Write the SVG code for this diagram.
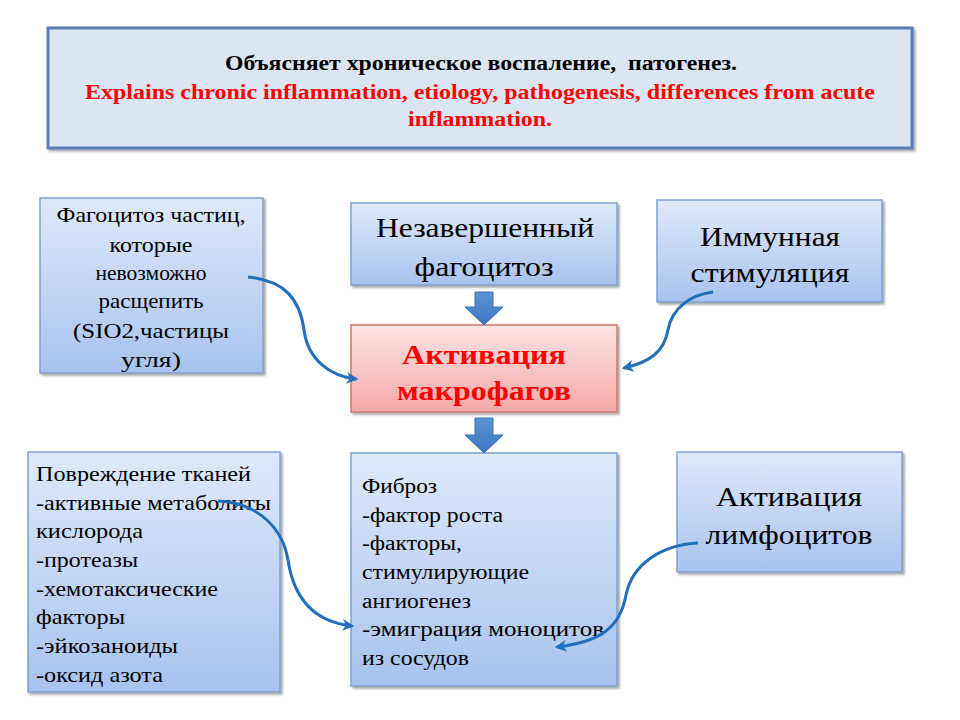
<svg xmlns="http://www.w3.org/2000/svg" width="960" height="720" viewBox="0 0 960 720" font-family="Liberation Serif, Times New Roman, serif">
<defs>
<linearGradient id="gBlue" x1="0" y1="0" x2="0" y2="1">
<stop offset="0" stop-color="#dfe9fb"/>
<stop offset="1" stop-color="#a8c3ee"/>
</linearGradient>
<linearGradient id="gRed" x1="0" y1="0" x2="0" y2="1">
<stop offset="0" stop-color="#fde3e3"/>
<stop offset="1" stop-color="#f5a9a8"/>
</linearGradient>
<linearGradient id="gArrow" x1="0" y1="0" x2="0" y2="1">
<stop offset="0" stop-color="#5a94d6"/>
<stop offset="1" stop-color="#3f78bf"/>
</linearGradient>
<filter id="sh" x="-10%" y="-10%" width="120%" height="120%">
<feDropShadow dx="2" dy="2" stdDeviation="1.2" flood-color="#000" flood-opacity="0.35"/>
</filter>
<marker id="ah" viewBox="0 0 10 10" refX="8" refY="5" markerWidth="4" markerHeight="4" orient="auto" markerUnits="strokeWidth">
<path d="M0,0 L10,5 L0,10 L3,5 Z" fill="#1f6fba"/>
</marker>
<style>
.box{fill:url(#gBlue);stroke:#7f9fd0;stroke-width:1.5;filter:url(#sh)}
.c{text-anchor:middle}
.big{font-size:28px}
.mid{font-size:22px}
.sm{font-size:20px}
.red{fill:#ff0000;font-weight:bold}
.con{fill:none;stroke:#1f6fba;stroke-width:3;marker-end:url(#ah)}
.blk{fill:url(#gArrow);stroke:#3b6ea8;stroke-width:1}
</style>
</defs>
<rect width="960" height="720" fill="#fff"/>

<g id="header">
<rect x="48" y="28" width="864" height="120" fill="#dce6f2" stroke="#5a7fb8" stroke-width="3" filter="url(#sh)"/>
<text class="c" x="481" y="70" font-size="20" font-weight="bold" textLength="512" lengthAdjust="spacingAndGlyphs" xml:space="preserve">Объясняет хроническое воспаление,  патогенез.</text>
<text class="c red" x="480" y="99" font-size="20" textLength="790" lengthAdjust="spacingAndGlyphs">Explains chronic inflammation, etiology, pathogenesis, differences from acute</text>
<text class="c red" x="480" y="126" font-size="20" textLength="144" lengthAdjust="spacingAndGlyphs">inflammation.</text>
</g>

<g id="phagocytosis-particles">
<rect class="box" x="40" y="198" width="223" height="175"/>
<text class="c mid" x="151" y="222" textLength="189" lengthAdjust="spacingAndGlyphs">Фагоцитоз частиц,</text>
<text class="c mid" x="151" y="252" textLength="83" lengthAdjust="spacingAndGlyphs">которые</text>
<text class="c mid" x="151" y="280" textLength="111" lengthAdjust="spacingAndGlyphs">невозможно</text>
<text class="c mid" x="151" y="308" textLength="105" lengthAdjust="spacingAndGlyphs">расщепить</text>
<text class="c mid" x="151" y="338" textLength="156" lengthAdjust="spacingAndGlyphs">(SIO2,частицы</text>
<text class="c mid" x="151" y="367" textLength="60" lengthAdjust="spacingAndGlyphs">угля)</text>
</g>

<g id="incomplete-phagocytosis">
<rect class="box" x="351" y="203" width="266" height="82"/>
<text class="c big" x="485" y="237" textLength="218" lengthAdjust="spacingAndGlyphs">Незавершенный</text>
<text class="c big" x="484" y="276" textLength="139" lengthAdjust="spacingAndGlyphs">фагоцитоз</text>
</g>

<g id="immune-stimulation">
<rect class="box" x="657" y="200" width="225" height="102"/>
<text class="c big" x="770" y="246" textLength="140" lengthAdjust="spacingAndGlyphs">Иммунная</text>
<text class="c big" x="770" y="282" textLength="159" lengthAdjust="spacingAndGlyphs">стимуляция</text>
</g>

<g id="macrophage-activation">
<rect x="351" y="325" width="266" height="87" fill="url(#gRed)" stroke="#d07573" stroke-width="1.5" filter="url(#sh)"/>
<text class="c big red" x="484" y="364" textLength="164" lengthAdjust="spacingAndGlyphs">Активация</text>
<text class="c big red" x="484" y="400" textLength="174" lengthAdjust="spacingAndGlyphs">макрофагов</text>
</g>

<g id="tissue-damage">
<rect class="box" x="28" y="452" width="252" height="240"/>
<text class="mid" x="36" y="481" textLength="215" lengthAdjust="spacingAndGlyphs">Повреждение тканей</text>
<text class="mid" x="36" y="510" textLength="235" lengthAdjust="spacingAndGlyphs">-активные метаболиты</text>
<text class="mid" x="36" y="538" textLength="107" lengthAdjust="spacingAndGlyphs">кислорода</text>
<text class="mid" x="36" y="567" textLength="102" lengthAdjust="spacingAndGlyphs">-протеазы</text>
<text class="mid" x="36" y="596" textLength="182" lengthAdjust="spacingAndGlyphs">-хемотаксические</text>
<text class="mid" x="36" y="624" textLength="89" lengthAdjust="spacingAndGlyphs">факторы</text>
<text class="mid" x="36" y="653" textLength="142" lengthAdjust="spacingAndGlyphs">-эйкозаноиды</text>
<text class="mid" x="36" y="682" textLength="127" lengthAdjust="spacingAndGlyphs">-оксид азота</text>
</g>

<g id="fibrosis">
<rect class="box" x="351" y="453" width="266" height="233"/>
<text class="sm" x="362" y="493" textLength="75" lengthAdjust="spacingAndGlyphs">Фиброз</text>
<text class="sm" x="362" y="522" textLength="141" lengthAdjust="spacingAndGlyphs">-фактор роста</text>
<text class="sm" x="362" y="550" textLength="100" lengthAdjust="spacingAndGlyphs">-факторы,</text>
<text class="sm" x="362" y="579" textLength="167" lengthAdjust="spacingAndGlyphs">стимулирующие</text>
<text class="sm" x="362" y="608" textLength="109" lengthAdjust="spacingAndGlyphs">ангиогенез</text>
<text class="sm" x="362" y="636" textLength="242" lengthAdjust="spacingAndGlyphs">-эмиграция моноцитов</text>
<text class="sm" x="362" y="665" textLength="107" lengthAdjust="spacingAndGlyphs">из сосудов</text>
</g>

<g id="lymphocyte-activation">
<rect class="box" x="677" y="452" width="225" height="120"/>
<text class="c big" x="789" y="506" textLength="146" lengthAdjust="spacingAndGlyphs">Активация</text>
<text class="c big" x="789" y="544" textLength="167" lengthAdjust="spacingAndGlyphs">лимфоцитов</text>
</g>

<g id="connectors">
<path class="blk" d="M475,292 L493,292 L493,307 L503,307 L484,325 L465,307 L475,307 Z"/>
<path class="blk" d="M475,418 L493,418 L493,435 L503,435 L484,453 L465,435 L475,435 Z"/>
<path class="con" d="M248,277 C285,280 300,300 304,330 C308,360 330,376 356,379"/>
<path class="con" d="M713,292 C690,295 672,308 668,330 C664,352 650,362 624,368"/>
<path class="con" d="M218,501 C260,503 283,530 288,560 C294,600 315,622 352,626"/>
<path class="con" d="M698,543 C660,545 632,565 626,595 C620,628 600,642 557,647"/>
</g>
</svg>
